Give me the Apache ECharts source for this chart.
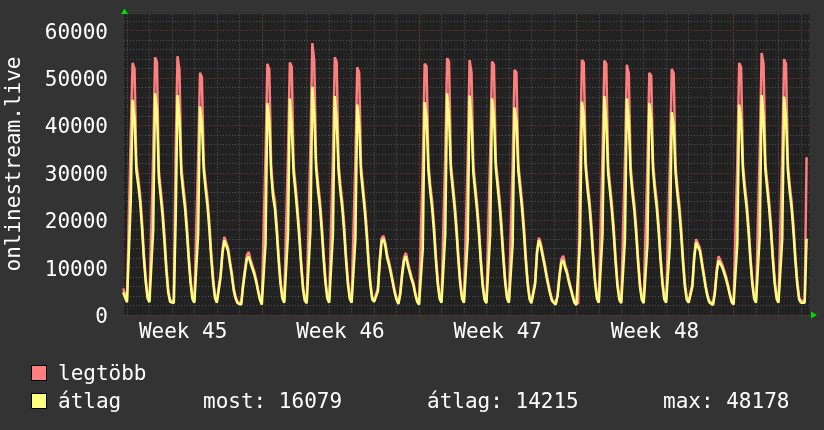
<!DOCTYPE html>
<html><head><meta charset="utf-8">
<script src="https://cdn.jsdelivr.net/npm/echarts@6/dist/echarts.min.js"></script>
<style>html,body{margin:0;padding:0;background:#333333;}#c{width:824px;height:430px;}</style>
</head><body><div id="c"></div>
<script>
// time in hours relative to Monday 00:00 of week 46; samples every 2 hours
const stepHours = 2;
const weekStarts = [-148, 0, 168, 336, 504];
const weekLabels = ['Week 45', 'Week 46', 'Week 47', 'Week 48'];
const weekLabelHours = [-84, 84, 252, 420];
const weekLineHours = [0, 168, 336, 504];
const yTicksMajor = [0, 10000, 20000, 30000, 40000, 50000, 60000];

const week45Max = [
5600, 4300,
3100, 2900, 38000, 53200, 52000, 32000, 29000, 25500, 20000, 13000, 7800, 4000,
3100, 2900, 34000, 54400, 53300, 30500, 26500, 22500, 17000, 10500, 5500, 3200,
3000, 2900, 35000, 54600, 51700, 31500, 27500, 24000, 19000, 12500, 7300, 3800,
3000, 2800, 33000, 51100, 50200, 32000, 28000, 24500, 19500, 13000, 7800, 4100,
2900, 3300, 8600, 13700, 16500, 16300, 14200, 11400, 8900, 5700, 3900, 2800,
2600, 2500, 6600, 9700, 12600, 13300, 11700, 10400, 9200, 7500, 5400, 3500
];
const week45Avg = [
4800, 3700,
2700, 2500, 24000, 45400, 41600, 30500, 27500, 24000, 18500, 12000, 7000, 3500,
2700, 2500, 18000, 46800, 43100, 29000, 25000, 21000, 15500, 9500, 4800, 2800,
2600, 2500, 20000, 46400, 41600, 30000, 26000, 22500, 17500, 11500, 6500, 3300,
2600, 2400, 17000, 44000, 40500, 30500, 26500, 23000, 18000, 12000, 7000, 3600,
2600, 3000, 8000, 13000, 15800, 15500, 13500, 10800, 8300, 5200, 3500, 2500,
2300, 2200, 6000, 9000, 11800, 12300, 11000, 9800, 8600, 7000, 5000, 3200
];
const week46Max = [
2500, 2400, 33700, 53000, 51800, 31500, 26500, 24000, 19000, 12500, 7300, 4000,
3000, 2800, 34000, 53300, 52400, 31500, 27500, 23000, 18000, 11500, 6200, 3400,
2900, 2800, 36000, 57400, 53700, 32500, 28000, 24500, 19500, 13000, 7600, 4000,
3000, 2800, 34000, 54400, 53300, 32000, 27500, 24000, 19000, 12500, 7300, 3900,
3000, 2800, 33000, 52300, 51200, 31500, 27500, 23500, 18500, 12000, 7000, 3800,
3100, 2900, 5600, 11800, 16200, 16700, 15200, 12700, 11200, 9300, 7200, 5100,
3500, 2600, 5000, 9200, 12300, 13100, 11200, 9600, 8100, 6800, 4700, 3100
];
const week46Avg = [
2200, 2100, 15000, 44700, 41200, 30000, 25000, 22500, 17500, 11500, 6500, 3500,
2600, 2400, 17000, 45700, 39600, 30000, 26000, 21500, 16500, 10500, 5500, 3000,
2500, 2400, 18000, 48178, 42500, 31000, 26500, 23000, 18000, 12000, 6800, 3500,
2600, 2400, 17000, 46200, 41000, 30500, 26000, 22500, 17500, 11500, 6500, 3400,
2600, 2400, 16000, 44400, 40300, 30000, 26000, 22000, 17000, 11000, 6200, 3300,
2800, 2500, 5000, 11000, 15500, 16100, 14500, 12000, 10500, 8700, 6700, 4700,
3200, 2300, 4500, 8500, 11500, 12400, 10500, 9000, 7500, 6300, 4300, 2800
];
const week47Max = [
2500, 2400, 32000, 53000, 52500, 32000, 27500, 24000, 19000, 12500, 7300, 3900,
3000, 2800, 34000, 54200, 53500, 32000, 28000, 24000, 19000, 12500, 7300, 3900,
3000, 2800, 33000, 53800, 51200, 31500, 27500, 23500, 18500, 12000, 6800, 3700,
2900, 2800, 34000, 53500, 52800, 32500, 28500, 24500, 19500, 13000, 7600, 4000,
3000, 2800, 32000, 51700, 51200, 32000, 28000, 24000, 19000, 12500, 7300, 3900,
2800, 2800, 7000, 13600, 16300, 15200, 13200, 11200, 8900, 6800, 4900, 3300,
2900, 2400, 4400, 8600, 11800, 12500, 10600, 9400, 7500, 5900, 4300, 2800
];
const week47Avg = [
2200, 2100, 14000, 44900, 41700, 30500, 26000, 22500, 17500, 11500, 6500, 3400,
2600, 2400, 17000, 46800, 41900, 30500, 26500, 22500, 17500, 11500, 6500, 3400,
2600, 2400, 16000, 46300, 40700, 30000, 26000, 22000, 17000, 11000, 6000, 3200,
2500, 2400, 17000, 45700, 41900, 31000, 27000, 23000, 18000, 12000, 6800, 3500,
2600, 2400, 15000, 43800, 41000, 30500, 26500, 22500, 17500, 11500, 6500, 3400,
2500, 2500, 6500, 13000, 15790, 14500, 12500, 10500, 8300, 6300, 4500, 3000,
2600, 2200, 4000, 8000, 11000, 11580, 10000, 8800, 7000, 5500, 4000, 2600
];
const week48Max = [
2400, 2400, 33000, 53800, 53300, 32500, 28000, 24500, 19500, 13000, 7600, 4000,
3000, 2800, 34000, 53700, 53000, 31500, 27500, 23500, 18500, 12000, 6800, 3700,
2900, 2700, 33000, 52800, 51000, 31500, 27000, 23500, 18500, 12000, 6800, 3700,
2900, 2700, 32000, 51100, 50500, 32000, 27500, 24000, 19000, 12500, 7300, 3800,
3000, 2800, 32000, 51900, 51000, 31500, 27000, 23500, 18500, 12000, 6800, 3700,
2900, 2700, 6600, 12800, 16000, 16300, 14200, 11600, 9100, 6500, 4400, 3000,
2600, 2400, 5000, 9700, 12400, 12800, 10600, 9400, 8100, 6500, 4600, 3000
];
const week48Avg = [
2100, 2100, 16000, 45000, 42100, 31000, 26500, 23000, 18000, 12000, 6800, 3500,
2600, 2400, 17000, 46200, 40700, 30000, 26000, 22000, 17000, 11000, 6000, 3200,
2500, 2300, 16000, 45700, 41000, 30000, 25500, 22000, 17000, 11000, 6000, 3200,
2500, 2300, 15000, 44700, 41700, 30500, 26000, 22500, 17500, 11500, 6500, 3300,
2600, 2400, 15000, 42800, 40000, 30000, 25500, 22000, 17000, 11000, 6000, 3200,
2600, 2400, 6000, 12000, 15300, 15600, 13500, 11000, 8500, 6000, 4000, 2700,
2300, 2100, 4500, 9000, 11500, 11900, 10000, 8800, 7500, 6000, 4200, 2700
];
const week49Max = [
2500, 2400, 32000, 53200, 52300, 32000, 27500, 24000, 19000, 12500, 7300, 3900,
3000, 2800, 35000, 55300, 53000, 32000, 28000, 24000, 19000, 12500, 7300, 3900,
3000, 2800, 34000, 54000, 53000, 32000, 27500, 24000, 19000, 12500, 7300, 3800,
3000, 2800, 3000, 33300
];
const week49Avg = [
2200, 2100, 15000, 44400, 41000, 30500, 26000, 22500, 17500, 11500, 6500, 3400,
2600, 2400, 17000, 46400, 41700, 30500, 26500, 22500, 17500, 11500, 6500, 3400,
2600, 2400, 16000, 46100, 41700, 30500, 26000, 22500, 17500, 11500, 6500, 3300,
2600, 2400, 2600, 16079
];

const legendStats = { most: '16079', atlag: '14215', max: '48178' };

function build(weeks) {
  const out = [];
  weeks.forEach((arr, w) => arr.forEach((v, i) => out.push([weekStarts[w] + i * stepHours, v])));
  return out;
}
const maxData = build([week45Max, week46Max, week47Max, week48Max, week49Max]);
const avgData = build([week45Avg, week46Avg, week47Avg, week48Avg, week49Avg]);

const xMin = -147.2, xMax = 584.9;
const dayLines = [];
for (let h = -144; h <= 576; h += 24) dayLines.push(h);

const FONT = 'DejaVu Sans Mono';
const chart = echarts.init(document.getElementById('c'), null, { renderer: 'canvas' });
chart.setOption({
  animation: false,
  backgroundColor: '#333333',
  grid: { left: 124, right: 14.7, top: 14.3, bottom: 115, show: true, backgroundColor: '#222222', borderWidth: 0 },
  xAxis: [
    { type: 'value', min: xMin, max: xMax, axisLine: { show: false },
      axisTick: { show: false, customValues: dayLines },
      splitLine: { show: true, lineStyle: { color: '#555555', width: 1, type: [1, 2] } },
      axisLabel: { customValues: weekLabelHours, color: '#ffffff', fontFamily: FONT, fontSize: 21, margin: 7,
        formatter: v => { const i = weekLabelHours.indexOf(v); return i >= 0 ? weekLabels[i] : ''; } } },
    { type: 'value', min: xMin, max: xMax, position: 'bottom', axisLine: { show: false },
      axisTick: { show: false, customValues: weekLineHours }, axisLabel: { show: false },
      splitLine: { show: true, lineStyle: { color: '#803535', width: 1, type: [1, 2] } } }
  ],
  yAxis: [
    { type: 'value', min: 0, max: 63460, interval: 2000, axisLine: { show: false }, axisTick: { show: false },
      splitLine: { show: true, showMaxLine: false, lineStyle: { color: '#555555', width: 1, type: [1, 2] } },
      axisLabel: { color: '#ffffff', fontFamily: FONT, fontSize: 21, margin: 16, verticalAlign: 'top', lineHeight: 5,
        formatter: v => yTicksMajor.indexOf(v) >= 0 ? String(v) : '' } },
    { type: 'value', min: 0, max: 63460, interval: 10000, position: 'left', axisLine: { show: false }, axisTick: { show: false },
      axisLabel: { show: false },
      splitLine: { show: true, showMaxLine: false, lineStyle: { color: '#803535', width: 1, type: [1, 2] } } }
  ],
  series: [
    { name: 'legtöbb', type: 'line', data: maxData, symbol: 'none', z: 3,
      lineStyle: { color: '#ff7f7f', width: 2.5 }, itemStyle: { color: '#ff7f7f' } },
    { name: 'átlag', type: 'line', data: avgData, symbol: 'none', z: 4,
      lineStyle: { color: '#ffff7f', width: 2.5 }, itemStyle: { color: '#ffff7f' } }
  ],
  graphic: [
    { type: 'polygon', shape: { points: [[124.5, 8.5], [121, 14], [128, 14]] }, style: { fill: '#00dd00' } },
    { type: 'polygon', shape: { points: [[817, 315], [811, 311.5], [811, 318.5]] }, style: { fill: '#00dd00' } },
    { type: 'text', x: 15, y: 164, rotation: Math.PI / 2,
      style: { text: 'onlinestream.live', fill: '#ffffff', font: '21px "' + FONT + '"', textAlign: 'center', textVerticalAlign: 'middle' } },
    { type: 'rect', shape: { x: 31.5, y: 365.5, width: 15, height: 15 }, style: { fill: '#ff7f7f', stroke: '#000000', lineWidth: 1 } },
    { type: 'rect', shape: { x: 31.5, y: 393.5, width: 15, height: 15 }, style: { fill: '#ffff7f', stroke: '#000000', lineWidth: 1 } },
    { type: 'text', x: 58, y: 375, style: { text: 'legtöbb', fill: '#ffffff', font: '21px "' + FONT + '"', textVerticalAlign: 'middle' } },
    { type: 'text', x: 58, y: 403, style: { text: 'átlag', fill: '#ffffff', font: '21px "' + FONT + '"', textVerticalAlign: 'middle' } },
    { type: 'text', x: 203, y: 403, style: { text: 'most: ' + legendStats.most, fill: '#ffffff', font: '21px "' + FONT + '"', textVerticalAlign: 'middle' } },
    { type: 'text', x: 427, y: 403, style: { text: 'átlag: ' + legendStats.atlag, fill: '#ffffff', font: '21px "' + FONT + '"', textVerticalAlign: 'middle' } },
    { type: 'text', x: 663, y: 403, style: { text: 'max: ' + legendStats.max, fill: '#ffffff', font: '21px "' + FONT + '"', textVerticalAlign: 'middle' } }
  ]
});
</script></body></html>
